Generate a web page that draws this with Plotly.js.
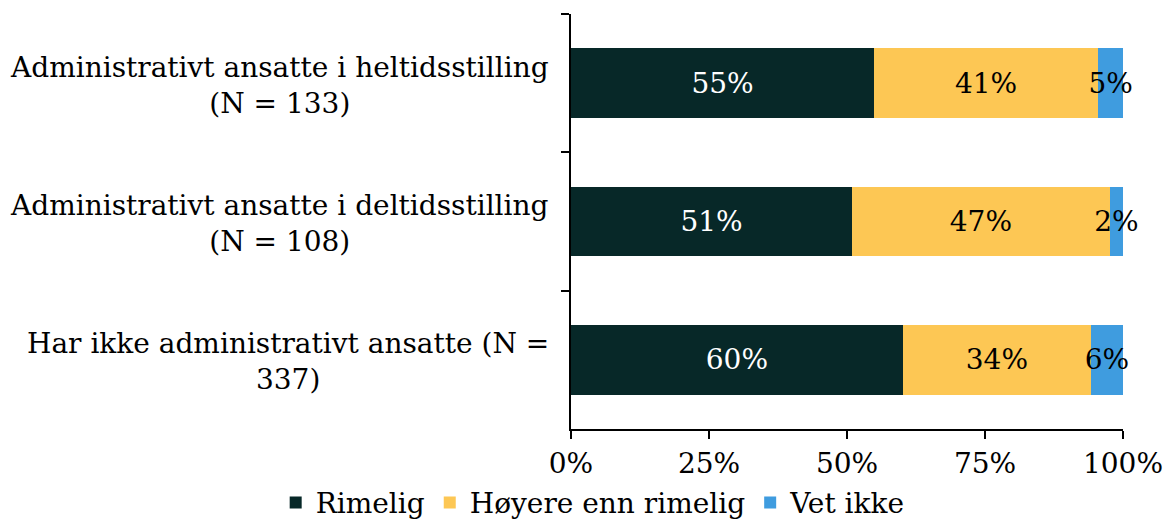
<!DOCTYPE html>
<html>
<head>
<meta charset="utf-8">
<script src="https://cdn.plot.ly/plotly-3.0.1.min.js"></script>
<style>html,body{margin:0;padding:0;background:#fff;}#chart{width:1166px;height:531px;}</style>
</head>
<body>
<div id="chart"></div>
<script>
const categories = [
  "Administrativt ansatte i heltidsstilling<br>(N = 133)",
  "Administrativt ansatte i deltidsstilling<br>(N = 108)",
  "Har ikke administrativt ansatte (N =<br>337)"
];
const rimelig = [54.9, 50.9, 60.1];
const hoyere = [40.6, 46.7, 34.1];
const vetIkke = [4.5, 2.4, 5.8];
const seriesNames = ["Rimelig", "Høyere enn rimelig", "Vet ikke"];
const colors = ["#072828", "#FDC754", "#3F9CDF"];
const textColors = ["#ffffff", "#000000", "#000000"];
const tickVals = [0, 25, 50, 75, 100];
const tickText = ["0%", "25%", "50%", "75%", "100%"];

const FONT = "'DejaVu Serif', serif";
const FS = 28;
const vals = [rimelig, hoyere, vetIkke];
const traces = vals.map((v, i) => ({
  type: "bar",
  orientation: "h",
  name: seriesNames[i],
  y: categories,
  x: v,
  marker: {color: colors[i]},
  texttemplate: "%{x:.0f}%",
  textposition: "inside",
  insidetextanchor: "middle",
  constraintext: "none",
  textangle: 0,
  cliponaxis: false,
  insidetextfont: {family: FONT, size: FS, color: textColors[i]},
  hoverinfo: "none"
}));

const annotations = categories.map(c => ({
  xref: "paper", yref: "y", x: 0, y: c, xanchor: "right", yanchor: "middle",
  xshift: -20, yshift: -2, align: "center", showarrow: false, text: c,
  font: {family: FONT, size: FS, color: "#000"}
}));

const layout = {
  width: 1166, height: 531,
  barmode: "stack",
  bargap: 0.495,
  margin: {l: 571, r: 43, t: 14, b: 102, autoexpand: false},
  paper_bgcolor: "#fff", plot_bgcolor: "#fff",
  font: {family: FONT, size: FS, color: "#000"},
  showlegend: true,
  legend: {orientation: "h", x: -0.535, xanchor: "left", y: -0.238, yanchor: "bottom",
    font: {family: FONT, size: FS}, traceorder: "normal", itemwidth: 30, bgcolor: "rgba(0,0,0,0)"},
  annotations: annotations,
  xaxis: {range: [0, 100], tickvals: tickVals, ticktext: tickText, showgrid: false, zeroline: false,
    showline: true, linecolor: "#000", linewidth: 2, ticks: "outside", ticklen: 8, tickcolor: "#000", tickwidth: 2,
    tickfont: {family: FONT, size: FS}, fixedrange: true},
  yaxis: {autorange: "reversed", showgrid: false, zeroline: false, showline: true, linecolor: "#000", linewidth: 2,
    ticks: "outside", tickson: "boundaries", ticklen: 8, tickcolor: "#000", tickwidth: 2,
    showticklabels: false, fixedrange: true}
};
Plotly.newPlot("chart", traces, layout, {displayModeBar: false, staticPlot: true});
</script>
</body>
</html>
